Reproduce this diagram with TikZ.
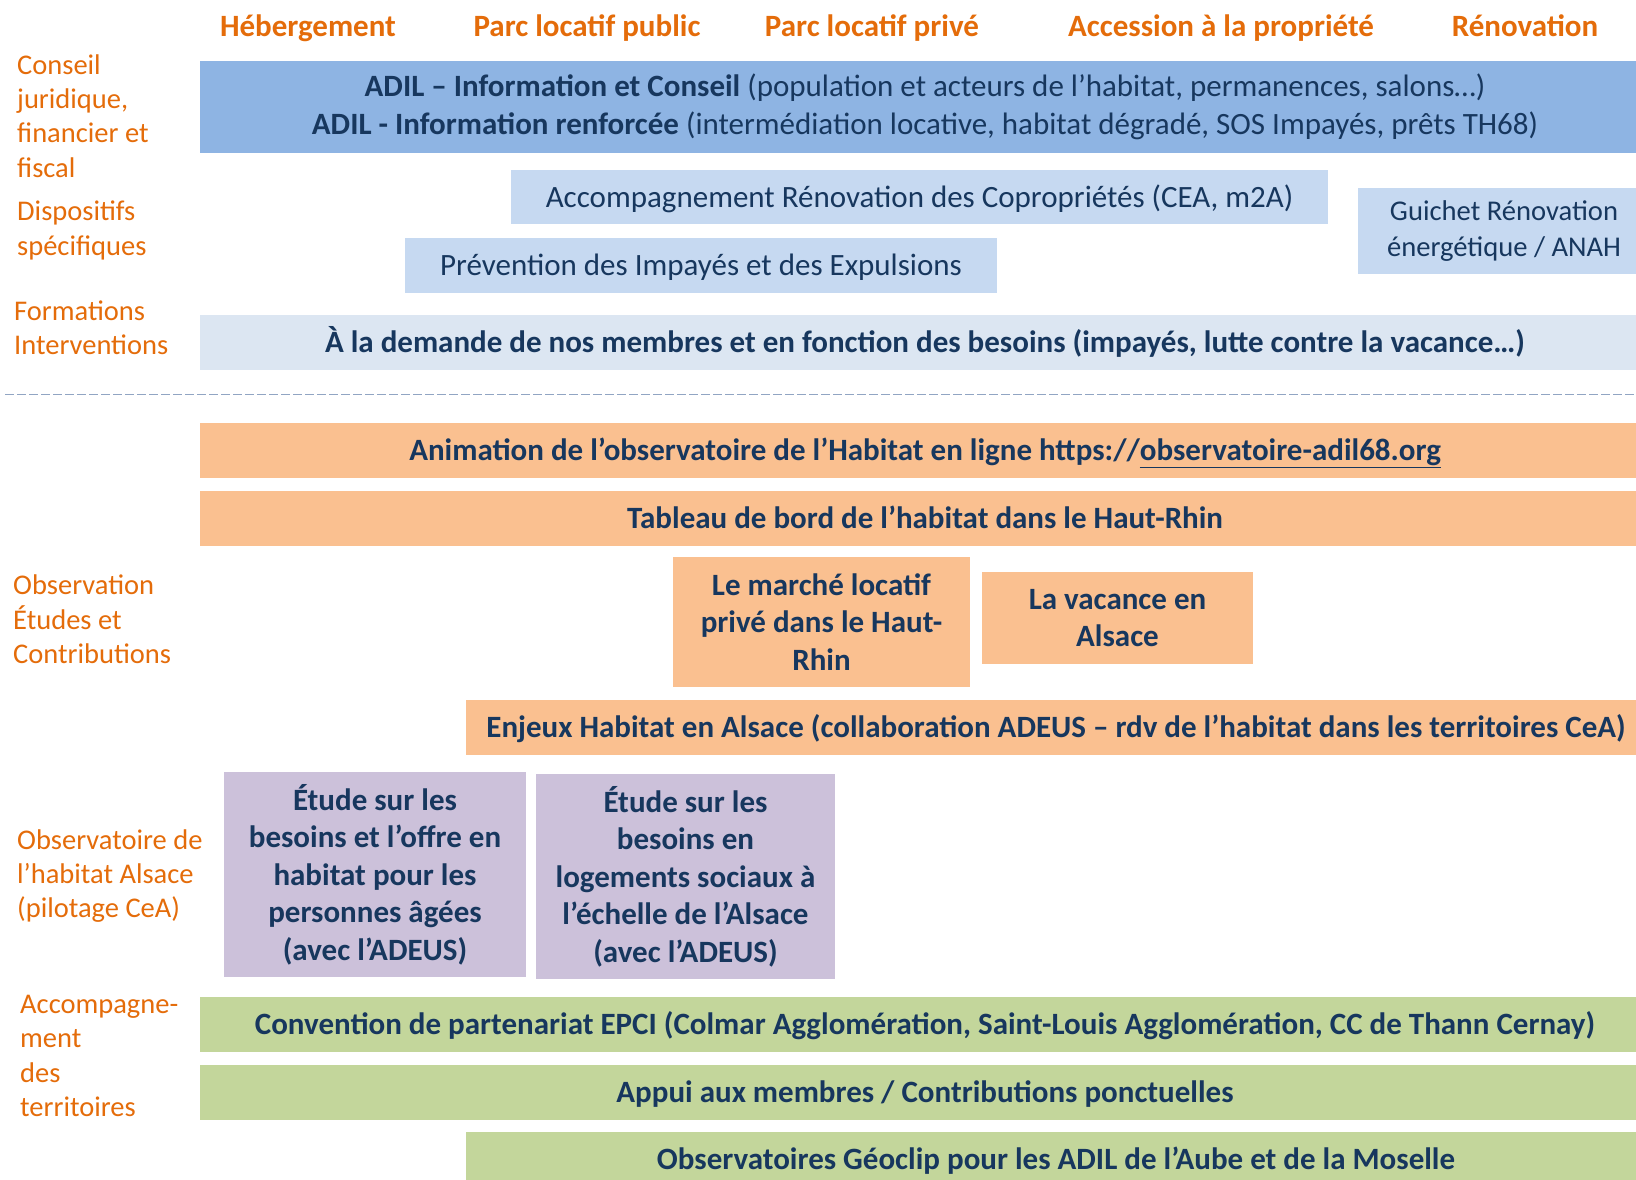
\documentclass[tikz,border=0pt]{standalone}
\usepackage{fontspec}
\setmainfont{Carlito}
\usepackage{tikz}
\usetikzlibrary{positioning}

\definecolor{navytext}{RGB}{23,55,94}
\definecolor{headorange}{RGB}{228,108,10}
\definecolor{adilblue}{RGB}{142,180,227}
\definecolor{paleblue}{RGB}{198,217,241}
\definecolor{palerblue}{RGB}{220,230,242}
\definecolor{obsorange}{RGB}{250,192,144}
\definecolor{studypurple}{RGB}{204,193,218}
\definecolor{terrgreen}{RGB}{195,214,155}
\definecolor{sepgrey}{RGB}{145,165,195}

\tikzset{
  band/.style={rectangle, inner sep=0pt, align=center, text=navytext, font=\fontsize{31}{37.5}\selectfont},
  bandbold/.style={band, font=\fontsize{31}{37.5}\selectfont\bfseries},
  oneline/.style={text height=24pt, text depth=4pt},
  colhead/.style={inner sep=0pt, text height=22pt, text depth=7pt, text=headorange, font=\fontsize{31}{36}\selectfont\bfseries},
  rowlabel/.style={inner sep=0pt, anchor=west, align=left, text=headorange, font=\fontsize{28.5}{34.4}\selectfont},
}

\begin{document}
\begin{tikzpicture}[x=1pt, y=-1pt]
            \useasboundingbox (0,0) rectangle (1636,1180);
            \clip (0,0) rectangle (1636,1180);

            % column headers
            \node [colhead] (heberg) at (308,29.5) {Hébergement};
            \node [colhead] (parcpub) at (587,29.5) {Parc locatif public};
            \node [colhead] (parcpriv) at (872,29.5) {Parc locatif privé};
            \node [colhead] (accession) at (1221,29.5) {Accession à la propriété};
            \node [colhead] (renov) at (1525,29.5) {Rénovation};

            % row labels
            \node [rowlabel] (conseil) at (17,116) {Conseil\\juridique,\\financier et\\fiscal};
            \node [rowlabel] (dispo) at (17,230.5) {Dispositifs\\spécifiques};
            \node [rowlabel] (formation) at (14,328) {Formations\\Interventions};
            \node [rowlabel] (observation) at (13,619.5) {Observation\\Études et\\Contributions};
            \node [rowlabel] (obsalsace) at (17,876) {Observatoire de\\l’habitat Alsace\\(pilotage CeA)};
            \node [rowlabel] (accterr) at (20,1056) {Accompagne-\\ment\\des\\territoires};

            % information, conseil
            \node [band, fill=adilblue, minimum width=1450, minimum height=92] (adil) at (925,107) {\textbf{ADIL – Information et Conseil} (population et acteurs de l’habitat, permanences, salons…)\\\textbf{ADIL - Information renforcée} (intermédiation locative, habitat dégradé, SOS Impayés, prêts TH68)};
            \node [band, oneline, fill=paleblue, minimum width=817, minimum height=54] (copro) at (919.5,197) {Accompagnement Rénovation des Copropriétés (CEA, m2A)};
            \node [band, fill=paleblue, minimum width=292, minimum height=86, font=\fontsize{28.6}{35.5}\selectfont] (guichet) at (1504,231) {Guichet Rénovation\\énergétique / ANAH};
            \node [band, oneline, fill=paleblue, minimum width=592, minimum height=55] (prevention) at (701,265.5) {Prévention des Impayés et des Expulsions};
            \node [bandbold, oneline, fill=palerblue, minimum width=1450, minimum height=55] (demande) at (925,342.5) {À la demande de nos membres et en fonction des besoins (impayés, lutte contre la vacance…)};

            \draw [sepgrey, line width=1pt, dash pattern=on 9pt off 3pt] (5,394) -- (1636,394);

            % observation, etudes
            \node [bandbold, oneline, fill=obsorange, minimum width=1450, minimum height=55] (animation) at (925,450.5) {Animation de l’observatoire de l’Habitat en ligne https://\underline{observatoire-adil68.org}};
            \node [bandbold, oneline, fill=obsorange, minimum width=1450, minimum height=55, below=13pt of animation] (tableau) {Tableau de bord de l’habitat dans le Haut-Rhin};
            \node [bandbold, fill=obsorange, minimum width=297, minimum height=130] (marche) at (821.5,622) {Le marché locatif\\privé dans le Haut-\\Rhin};
            \node [bandbold, fill=obsorange, minimum width=271, minimum height=92] (vacance) at (1117.5,618) {La vacance en\\Alsace};
            \node [bandbold, oneline, fill=obsorange, minimum width=1180, minimum height=55] (enjeux) at (1056,727.5) {Enjeux Habitat en Alsace (collaboration ADEUS – rdv de l’habitat dans les territoires CeA)};

            % observatoire alsace
            \node [bandbold, fill=studypurple, minimum width=302, minimum height=205] (agees) at (375,874.5) {Étude sur les\\besoins et l’offre en\\habitat pour les\\personnes âgées\\(avec l’ADEUS)};
            \node [bandbold, fill=studypurple, minimum width=299, minimum height=205] (sociaux) at (685.5,876.5) {Étude sur les\\besoins en\\logements sociaux à\\l’échelle de l’Alsace\\(avec l’ADEUS)};

            % territoires
            \node [bandbold, oneline, fill=terrgreen, minimum width=1450, minimum height=55] (convention) at (925,1024.5) {Convention de partenariat EPCI (Colmar Agglomération, Saint-Louis Agglomération, CC de Thann Cernay)};
            \node [bandbold, oneline, fill=terrgreen, minimum width=1450, minimum height=55, below=13pt of convention] (appui) {Appui aux membres / Contributions ponctuelles};
            \node [bandbold, oneline, fill=terrgreen, minimum width=1180, minimum height=55] (geoclip) at (1056,1159.5) {Observatoires Géoclip pour les ADIL de l’Aube et de la Moselle};
        \end{tikzpicture}
\end{document}
